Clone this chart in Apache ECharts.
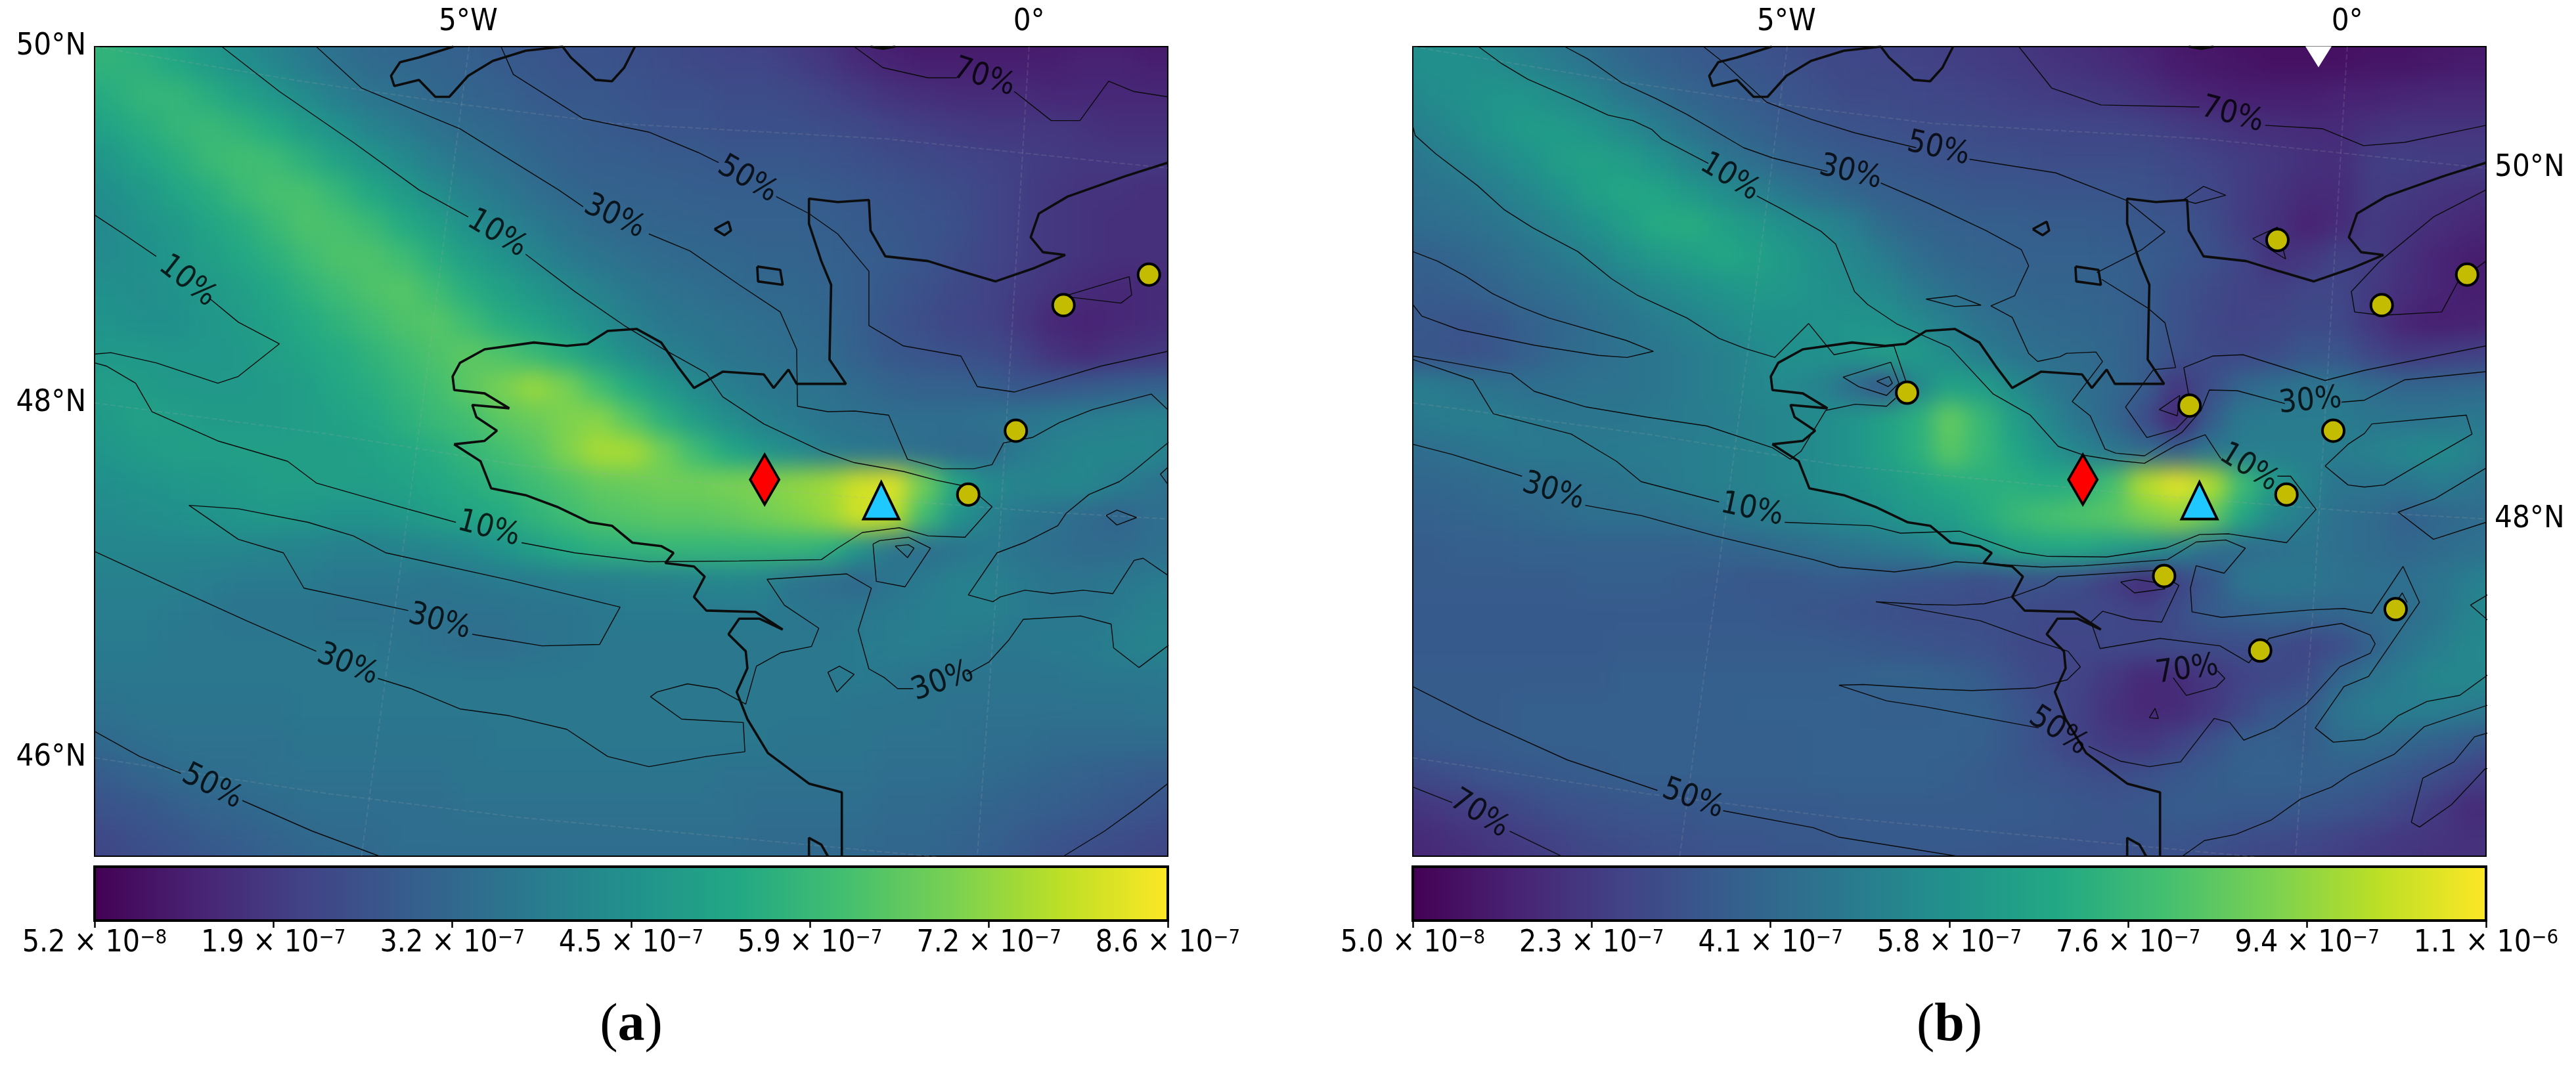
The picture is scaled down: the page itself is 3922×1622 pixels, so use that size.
<!DOCTYPE html>
<html>
<head>
<meta charset="utf-8">
<script src="https://cdn.jsdelivr.net/npm/echarts@6/dist/echarts.min.js"></script>
<style>
html, body { margin: 0; padding: 0; background: #fff; }
body { width: 3922px; height: 1622px; position: relative; overflow: hidden; }
.wrap { position: absolute; overflow: hidden; }
.heat { position: absolute; filter: blur(17px); }
#overlay { position: absolute; left: 0; top: 0; width: 3922px; height: 1622px; }
</style>
</head>
<body>
<div class="wrap" id="wrapA"><div class="heat" id="heatA"></div></div>
<div class="wrap" id="wrapB"><div class="heat" id="heatB"></div></div>
<div id="overlay"></div>
<script>
// all fields in units of 1e-8, rows north to south, one extra row/col round the map
var fieldA = [
[59,57,54,50,46,43,40,37,34,32,31,30,29,27,26,25,25,24,23,22,21,20,18,16,13,11,10,10,10,10,11,11,11,10,10],
[57,57,56,53,49,45,42,38,35,33,32,31,30,28,27,26,26,25,24,23,22,22,20,18,15,13,12,12,12,12,12,13,13,12,12],
[53,55,58,58,55,51,47,43,39,36,34,32,31,30,28,27,27,26,25,25,24,24,23,21,19,17,16,15,15,15,14,14,14,14,14],
[48,52,55,58,59,57,54,49,45,41,38,35,33,32,30,29,28,27,26,26,25,25,25,24,23,21,20,19,18,18,18,17,16,16,16],
[45,48,52,55,59,61,60,56,51,47,43,39,36,34,32,30,29,29,28,28,27,27,27,26,25,24,23,22,21,20,19,18,18,18,18],
[43,45,48,52,55,59,62,62,58,53,49,44,40,37,34,32,31,30,30,29,29,29,29,28,27,26,25,24,22,20,18,17,17,16,16],
[42,43,46,48,52,55,59,63,62,59,54,50,45,41,38,35,33,32,31,31,30,30,30,29,28,27,26,25,22,20,18,17,16,16,16],
[44,43,45,47,50,53,56,60,63,63,60,55,50,46,42,38,36,34,33,32,32,31,31,30,29,28,26,24,22,20,18,17,16,16,16],
[45,45,44,46,48,50,53,57,60,63,64,60,55,51,47,43,40,37,35,34,33,32,32,31,29,27,25,23,21,19,17,15,14,15,15],
[46,46,45,45,47,49,51,54,57,60,63,64,60,55,52,48,44,40,37,36,35,34,33,32,29,26,24,22,21,18,14,13,14,15,16],
[47,48,48,47,47,48,50,52,54,57,60,63,65,63,59,55,49,44,40,38,36,35,34,33,30,27,26,25,24,21,17,15,17,18,19],
[48,50,49,48,48,48,49,50,53,55,58,61,65,69,73,69,61,54,48,43,39,37,36,35,33,31,30,30,29,27,27,28,29,30,30],
[47,49,51,50,49,49,49,50,51,53,56,59,61,65,67,70,71,64,56,49,44,40,38,36,35,34,34,34,35,36,38,39,40,41,40],
[46,47,49,50,50,50,50,50,50,51,53,55,58,61,64,70,75,75,68,60,53,47,43,39,37,36,34,33,33,38,40,42,42,42,38],
[44,45,46,47,48,49,50,50,50,50,51,53,55,57,60,63,66,67,68,68,69,70,72,74,80,82,68,52,43,41,42,42,39,36,33],
[43,43,44,45,46,47,48,47,46,46,48,50,52,54,57,60,63,64,65,65,66,68,70,73,80,78,60,46,40,37,35,33,31,34,34],
[42,42,42,42,42,42,41,41,40,40,41,42,43,46,50,54,56,57,58,58,58,58,58,56,46,36,34,36,38,36,34,33,33,34,35],
[40,40,40,40,39,38,38,38,37,37,37,36,37,38,38,39,39,40,40,41,42,41,36,34,32,36,38,40,40,38,36,36,37,38,39],
[39,39,39,38,37,36,36,36,35,35,35,35,35,35,36,36,37,38,38,38,38,38,37,36,37,38,39,40,40,38,37,37,38,40,40],
[38,38,38,37,37,37,37,37,37,37,36,35,34,34,35,36,37,37,37,37,37,37,37,37,38,39,39,38,37,37,38,38,40,41,41],
[37,37,37,37,37,37,37,37,37,37,37,37,37,37,37,37,37,37,37,37,37,37,37,37,38,37,36,36,36,36,36,37,37,37,38],
[35,35,36,36,36,36,36,37,37,37,37,37,37,37,37,37,37,37,37,37,37,37,37,37,36,36,36,35,35,35,35,35,35,36,36],
[31,33,34,35,35,35,35,36,36,36,36,36,36,37,37,37,37,37,37,37,37,37,36,36,36,35,35,35,34,34,33,33,33,33,33],
[27,29,31,33,34,34,35,35,35,35,35,35,36,36,36,36,36,36,36,36,35,35,35,35,35,34,34,34,33,32,31,30,29,28,28],
[24,26,27,29,31,32,33,34,34,34,34,34,35,35,35,35,35,35,35,35,35,34,34,34,34,33,33,32,31,30,29,28,27,26,25],
[21,23,25,26,28,29,31,32,33,33,34,34,34,34,34,34,34,34,34,34,34,33,33,33,33,32,32,31,30,28,26,25,24,23,22],
[20,22,23,25,26,28,29,31,32,32,33,33,33,33,33,33,33,33,33,33,33,33,32,32,32,31,31,30,28,26,24,23,22,21,20]
];
var fieldB = [
[58,58,56,53,49,46,42,39,36,34,33,31,30,28,27,26,25,24,23,22,20,18,16,14,12,11,10,10,10,10,10,10,11,12,12],
[56,58,58,56,53,49,45,41,38,36,34,33,31,29,28,27,26,25,24,23,21,20,18,16,13,12,11,10,10,10,11,11,12,13,13],
[53,56,58,60,60,56,52,47,43,39,37,35,33,31,29,29,28,27,26,25,24,23,22,20,17,15,14,14,14,15,15,16,17,17,17],
[48,52,56,60,63,63,60,55,50,45,41,38,35,34,32,31,30,30,29,28,28,27,27,26,24,22,20,19,18,18,20,21,21,21,21],
[45,48,51,55,59,64,66,64,59,53,47,43,39,37,35,34,33,32,31,31,30,30,30,30,28,26,24,22,20,19,24,25,24,24,24],
[43,45,47,50,54,59,65,68,67,62,57,52,47,43,40,37,36,35,34,34,33,33,33,32,30,28,24,21,18,18,24,23,21,20,19],
[42,43,44,46,49,53,58,64,70,71,66,62,58,54,50,42,39,38,37,37,36,36,35,34,33,30,24,20,15,18,23,21,19,17,15],
[38,38,40,42,45,48,52,57,62,65,68,66,62,58,54,49,43,40,39,38,38,38,37,36,34,31,27,20,22,26,24,20,16,14,13],
[37,36,37,39,42,44,47,50,54,57,60,62,61,59,56,54,48,44,41,40,39,39,38,36,32,29,26,25,27,27,23,19,16,14,14],
[36,34,33,34,38,40,43,46,49,52,55,58,58,59,60,59,55,50,45,42,41,40,39,36,32,28,26,27,29,28,22,16,14,15,16],
[34,33,32,33,37,41,43,45,47,49,51,54,58,58,60,64,62,56,50,46,43,42,40,36,31,29,28,30,34,33,27,23,24,25,26],
[50,50,47,45,44,44,45,45,47,49,51,54,55,52,42,33,54,66,64,56,48,44,41,36,22,30,40,44,46,46,42,40,40,41,42],
[46,49,50,50,48,47,47,47,48,49,50,52,54,56,60,66,72,86,76,64,54,46,40,30,16,36,48,49,49,49,47,46,46,48,46],
[42,43,45,47,48,48,48,49,49,50,51,52,54,56,60,66,72,84,76,68,60,53,47,42,38,47,50,50,50,50,51,54,56,53,46],
[40,40,41,42,43,44,45,46,48,50,51,52,54,56,59,62,66,70,72,72,70,72,80,100,108,100,78,62,52,46,46,46,49,47,42],
[38,38,39,40,41,42,44,44,44,45,47,49,51,53,55,58,62,64,70,76,80,82,84,90,94,86,68,54,49,44,42,38,40,42,43],
[36,36,37,37,38,38,38,38,38,38,39,40,42,44,46,48,50,56,60,66,68,68,64,60,52,44,42,44,46,44,42,40,42,44,46],
[36,36,36,36,36,36,37,37,37,36,35,34,34,35,35,34,33,32,30,32,32,30,24,18,26,34,46,48,47,45,44,44,46,50,54],
[35,35,35,35,35,35,35,35,35,35,35,35,34,33,32,31,30,30,30,30,28,28,28,26,30,36,38,40,40,40,42,42,46,52,56],
[35,35,35,35,35,35,35,36,36,36,36,36,36,36,35,34,33,32,31,29,27,27,28,28,29,29,30,30,27,30,38,46,50,54,56],
[36,36,36,36,36,36,36,37,37,37,37,37,37,37,38,39,39,38,36,31,28,26,22,17,18,22,26,28,30,40,46,50,54,54,54],
[36,36,36,36,37,37,37,37,37,37,37,38,38,38,38,37,37,38,38,34,30,25,20,17,18,22,28,34,36,46,50,50,50,48,46],
[33,35,36,36,37,37,37,37,37,37,37,37,37,38,38,38,38,38,37,34,30,26,23,22,26,32,37,38,36,42,42,40,38,35,32],
[27,29,31,33,34,35,36,37,37,37,37,37,37,38,38,38,38,37,36,34,33,31,30,31,34,36,38,38,38,37,36,33,30,26,22],
[20,22,24,26,29,31,32,33,34,34,35,35,35,35,36,36,36,36,36,36,35,34,33,34,36,36,35,35,34,33,31,27,23,18,19],
[17,18,20,22,24,26,29,30,31,32,33,33,34,34,35,35,35,35,35,34,34,33,33,33,33,32,30,29,28,26,24,22,21,20,20],
[15,16,18,20,22,24,26,28,29,30,31,31,32,32,33,33,33,33,32,32,31,31,30,30,30,28,27,26,25,23,22,21,20,20,20]
];

var viridis = ['#440154','#482475','#414487','#355f8d','#2a788e','#21918c','#22a884','#44bf70','#7ad151','#bddf26','#fde725'];

// colour bar ticks
var ticksA = [5.2,18.6,32,45.4,58.8,72.2,85.6];
var tickTextA = [['5.2','−8'],['1.9','−7'],['3.2','−7'],['4.5','−7'],['5.9','−7'],['7.2','−7'],['8.6','−7']];
var ticksB = [5,22.8,40.6,58.4,76.2,94,111.8];
var tickTextB = [['5.0','−8'],['2.3','−7'],['4.1','−7'],['5.8','−7'],['7.6','−7'],['9.4','−7'],['1.1','−6']];

var lonTicks = [570,1253];
var lonText = ['5°W','0°'];
var latTicksA = [69,594,1117];
var latTextA = ['50°N','48°N','46°N'];
var latTicksB = [248,765];
var latTextB = ['50°N','48°N'];

var graticule = [
[[115,69],[367,120],[555,153],[746,182],[1080,205],[1422,248]],
[[115,594],[400,640],[634,686],[1001,729],[1274,755],[1422,765]],
[[115,1117],[400,1170],[634,1205],[1140,1263]],
[[571,69],[514,600],[440,1262]],
[[1253,69],[1214,852],[1190,1262]]
];

var coast = [
[[552,69],[510,85],[487,92],[476,112],[480,127],[510,118],[530,143],[547,143],[570,112],[600,90],[640,75],[685,69],[695,85],[725,118],[745,120],[760,100],[773,69]],
[[1060,69],[1075,72],[1090,69]],
[[1422,240],[1370,260],[1300,290],[1265,315],[1255,350],[1270,372],[1297,376],[1260,395],[1212,415],[1170,400],[1130,385],[1078,378],[1060,340],[1058,295],[1020,298],[985,293],[985,330],[1000,385],[1012,420],[1010,530],[1030,566],[970,566],[960,545],[942,572],[930,552],[880,548],[845,572],[825,540],[805,505],[775,485],[740,488],[715,507],[690,510],[650,505],[590,515],[560,535],[551,555],[553,575],[590,580],[620,602],[575,597],[580,615],[605,635],[590,650],[553,655],[585,680],[598,720],[640,730],[680,748],[718,770],[745,775],[770,800],[805,805],[820,815],[810,830],[845,835],[858,850],[845,880],[860,900],[920,902],[953,928],[925,912],[900,912],[887,935],[908,960],[910,985],[897,1020],[910,1060],[935,1110],[985,1155],[1025,1168],[1025,1262]],
[[985,1262],[985,1235],[1000,1245],[1008,1262]],
[[870,338],[887,327],[890,340],[882,347],[870,338]],
[[922,393],[950,398],[953,420],[923,415],[922,393]]
];

var contoursA = [
[[270,69],[340,135],[430,210],[510,280],[570,320]],
[[640,375],[700,430],[760,480],[808,515],[860,550],[880,585],[930,625],[1000,665],[1040,682],[1100,695],[1140,708],[1180,718],[1208,747],[1175,792],[1130,790],[1095,778],[1050,785],[1020,808],[1000,825],[900,827],[790,828],[700,815],[635,800]],
[[555,770],[480,745],[385,712],[350,680],[265,650],[185,607],[165,565],[130,540],[115,535]],
[[115,522],[135,520],[190,535],[265,565],[290,555],[340,507],[290,475],[255,440]],
[[190,378],[150,345],[115,317]],
[[385,69],[440,130],[500,160],[560,190],[620,235],[680,280],[710,305]],
[[790,345],[840,370],[900,420],[950,460],[970,515],[971,599],[1008,607],[1041,606],[1082,612],[1105,677],[1147,691],[1186,691],[1208,685],[1222,653],[1257,645],[1290,623],[1330,604],[1402,581],[1422,604]],
[[1423,652],[1400,675],[1379,696],[1363,710],[1326,729],[1298,757],[1288,775],[1249,799],[1214,815],[1179,877],[1209,887],[1218,880],[1248,870],[1281,875],[1319,870],[1355,875],[1381,826],[1392,823],[1422,848]],
[[1347,760],[1360,752],[1384,763],[1360,774],[1347,760]],
[[1422,689],[1413,699],[1422,714]],
[[1063,802],[1071,797],[1106,792],[1133,808],[1102,865],[1067,857],[1063,802]],
[[1090,805],[1106,803],[1113,808],[1105,822],[1090,805]],
[[1112,1015],[1093,1015],[1077,999],[1058,986],[1045,929],[1061,867],[1031,846],[934,854],[955,892],[997,926],[988,953],[951,962],[921,982],[908,1038],[873,1015],[837,1008],[800,1020],[792,1027],[830,1060],[905,1065],[907,1108],[860,1115],[790,1130],[740,1115],[690,1075],[620,1055],[560,1045],[500,1015],[460,1000]],
[[385,960],[300,915],[200,860],[115,813]],
[[1177,994],[1204,976],[1228,944],[1246,913],[1316,908],[1353,920],[1356,955],[1387,984],[1423,951]],
[[1008,991],[1022,982],[1040,994],[1019,1020],[1008,991]],
[[230,745],[290,750],[375,770],[430,790],[470,815],[620,855],[755,895],[730,950],[660,952],[600,940],[575,935]],
[[497,900],[440,885],[370,867],[345,815],[290,795],[230,745]],
[[115,1078],[170,1115],[220,1140]],
[[295,1180],[380,1225],[462,1262]],
[[1295,1262],[1345,1225],[1385,1190],[1422,1155]],
[[610,69],[625,110],[710,175],[790,195],[850,225],[875,240]],
[[945,290],[985,315],[1020,345],[1058,400],[1058,480],[1100,510],[1170,525],[1190,570],[1235,578],[1340,540],[1422,518]],
[[1040,69],[1075,100],[1130,115],[1165,115]],
[[1235,135],[1280,178],[1315,178],[1350,120],[1380,135],[1422,143]],
[[1295,437],[1375,408],[1378,435],[1365,447],[1295,437]]
];

var contoursB = [
[[195,69],[222,93],[255,117],[310,146],[353,170],[383,178],[406,191],[418,205],[475,241]],
[[534,289],[567,310],[612,341],[630,360],[653,430],[669,449],[705,478],[769,512],[822,581],[867,612],[901,658],[932,671],[973,679],[1006,683],[1044,657],[1080,641],[1099,676]],
[[1168,702],[1184,702],[1215,751],[1179,800],[1109,787],[1073,788],[1032,808],[960,821],[887,820],[854,814],[781,783],[709,786],[673,775],[634,773],[568,770]],
[[488,740],[393,710],[363,680],[308,640],[213,610],[188,560],[115,530]],
[[300,69],[328,87],[369,122],[412,146],[449,169],[518,218],[553,233],[620,253]],
[[685,270],[743,300],[813,340],[856,368],[865,392],[848,436],[819,451],[845,468],[865,521],[876,533],[903,526],[911,521],[947,519],[955,533],[918,592],[940,613],[958,662],[971,668],[1006,672],[1052,637],[1075,605],[1085,575],[1119,576],[1177,595]],
[[1246,593],[1274,590],[1323,560],[1422,548]],
[[115,186],[118,200],[143,227],[194,274],[226,309],[261,336],[316,371],[357,411],[388,435],[449,469],[488,499],[520,514],[556,527],[597,477],[628,523],[665,514],[701,510],[716,564]],
[[703,587],[692,599],[654,596],[618,605],[588,665],[575,677],[553,660],[473,628],[400,615],[326,600],[263,577],[235,551],[159,534],[115,525]],
[[115,371],[145,385],[179,407],[212,433],[245,452],[281,469],[375,502],[408,518],[376,527],[341,524],[263,509],[171,486],[126,466],[115,449]],
[[115,655],[163,670],[248,702]],
[[325,745],[393,760],[483,790],[603,825],[634,836],[702,843],[745,836],[776,828],[882,836],[932,834],[1034,825],[1069,799],[1105,796],[1129,808],[1103,845],[1069,834],[1062,867],[1064,902],[1100,910],[1208,899],[1249,897],[1283,904],[1321,835],[1341,888],[1279,997],[1249,1012],[1214,1073],[1236,1094],[1274,1090],[1292,1080],[1315,1055],[1350,1034],[1390,1025],[1425,994]],
[[679,887],[735,891],[776,892],[811,890],[847,879],[884,863],[901,850],[1019,841],[1048,863],[1027,917],[991,913],[955,901],[941,917],[952,956],[1025,941],[1098,952],[1133,977],[1158,941],[1208,926],[1246,919],[1281,936],[1287,949],[1281,963],[1244,983],[1203,1038],[1164,1073],[1127,1091],[1110,1065],[1091,1059],[1050,1123],[1012,1130],[977,1122],[938,1100]],
[[877,1073],[740,1042],[692,1033],[634,1010],[664,1009],[755,1016],[796,1018],[874,1014],[912,1002],[928,983],[913,960],[879,947],[806,915],[679,887]],
[[1041,999],[1057,1025],[1093,1013],[1104,1000],[1095,989]],
[[1012,1058],[1019,1044],[1023,1059],[1012,1058]],
[[977,858],[995,854],[1021,859],[1031,868],[994,874],[977,858]],
[[1315,883],[1320,874],[1326,888]],
[[1425,876],[1403,892],[1425,915]],
[[1425,1039],[1347,1071],[1310,1112],[1256,1142],[1234,1160],[1196,1178],[1160,1209],[1117,1230],[1079,1239],[1051,1263]],
[[115,1012],[193,1060],[303,1120],[413,1165]],
[[493,1195],[603,1220],[634,1234],[783,1263]],
[[115,1160],[163,1183]],
[[233,1225],[298,1263]],
[[1425,1080],[1408,1086],[1383,1123],[1345,1147],[1331,1212],[1341,1219],[1380,1186],[1408,1150],[1421,1133],[1425,1133]],
[[469,69],[494,93],[546,151],[600,176],[653,196],[728,218]],
[[793,235],[898,255],[983,295],[1031,342],[1003,368],[948,402]],
[[954,412],[1011,455],[1031,476],[1044,542],[1017,545],[983,600],[1009,645],[1044,633],[1060,613]],
[[1060,583],[1054,542],[1089,525],[1126,523],[1226,561],[1274,546],[1422,510]],
[[1024,604],[1049,583],[1046,613],[1024,604]],
[[740,441],[777,436],[807,450],[775,452],[740,441]],
[[639,556],[697,534],[707,565],[692,583],[658,570],[639,556]],
[[680,562],[695,555],[699,565],[694,570],[680,562]],
[[1138,352],[1168,335],[1178,382],[1138,352]],
[[853,69],[893,130],[953,155],[1073,158]],
[[1153,185],[1223,190],[1273,215],[1323,210],[1422,185]],
[[1422,280],[1358,320],[1293,385],[1258,430],[1262,460],[1295,465],[1368,460],[1388,415],[1422,385]],
[[1053,295],[1078,275],[1105,288],[1068,300],[1053,295]],
[[1226,687],[1254,655],[1274,639],[1283,625],[1398,612],[1405,640],[1333,690],[1298,715],[1274,718],[1254,715],[1226,687]],
[[1422,690],[1360,735],[1315,755],[1358,795],[1422,770]]
];

var levelLabelsA = [
['10%',605,345,-31],['30%',748,320,-25],['50%',910,265,-30],['70%',1198,115,-18],
['10%',228,415,-38],['10%',595,780,-15],['30%',535,917,-15],['30%',423,980,-22],
['50%',258,1160,-27],['30%',1148,1005,20]
];
var levelLabelsB = [
['10%',501,262,-31],['30%',648,255,-13],['50%',755,220,-13],['70%',1113,170,-15],
['30%',1208,592,5],['10%',1133,690,-32],['10%',528,752,-12],['30%',286,725,-17],
['50%',901,1078,-33],['50%',456,1178,-20],['70%',196,1200,-32],['70%',1058,988,8]
];

var sourceSite = [[931,707]];
var peakSite = [[1073,738]];
var stationsA = [[1295,450],[1399,405],[1237,635],[1179,729]];
var stationsB = [[1168,354],[1399,405],[1295,450],[717,579],[1061,598],[1236,635],[1179,729],[1030,849],[1312,898],[1147,959]];
var whiteMark = [[1218,84]];

var panelW = 1634, panelH = 1233, panelTop = 71, leftA = 144, leftB = 2151;
var barTop = 1320, barH = 82;
var fontName = '"DejaVu Sans Condensed", "DejaVu Sans", sans-serif';

function drawHeat(wrapId, heatId, left, field, vmin, vmax) {
    var cols = field[0].length, rows = field.length;
    var cw = panelW / (cols - 2), ch = panelH / (rows - 2);
    var wrap = document.getElementById(wrapId);
    wrap.style.left = left + 'px'; wrap.style.top = panelTop + 'px';
    wrap.style.width = panelW + 'px'; wrap.style.height = panelH + 'px';
    var el = document.getElementById(heatId);
    el.style.left = -cw + 'px'; el.style.top = -ch + 'px';
    el.style.width = (panelW + 2 * cw) + 'px'; el.style.height = (panelH + 2 * ch) + 'px';
    var cells = [];
    field.forEach(function (row, j) {
        if (row.length !== cols) throw new Error(heatId + ' row ' + j + ' has ' + row.length);
        row.forEach(function (v, i) { cells.push([i, j, v]); });
    });
    var xs = field[0].map(function (d, i) { return i; });
    var ys = field.map(function (d, j) { return j; });
    echarts.init(el).setOption({
        animation: false,
        grid: { left: 0, right: 0, top: 0, bottom: 0 },
        xAxis: { type: 'category', data: xs, show: false },
        yAxis: { type: 'category', data: ys, show: false, inverse: true },
        visualMap: { show: false, min: vmin, max: vmax, inRange: { color: viridis }, seriesIndex: 0 },
        series: [{ type: 'heatmap', data: cells, progressive: 0 }]
    });
}
drawHeat('wrapA', 'heatA', leftA, fieldA, ticksA[0], ticksA[6]);
drawHeat('wrapB', 'heatB', leftB, fieldB, ticksB[0], ticksB[6]);

var grids = [], xAxes = [], yAxes = [], series = [];

function addPanel(left, latTicks, latText, latSide, contours, labels, stations, extra) {
    var idx = grids.length;
    grids.push({ show: true, left: left, top: panelTop, width: panelW, height: panelH, backgroundColor: 'transparent', borderColor: '#000', borderWidth: 2 });
    xAxes.push({
        gridIndex: idx, type: 'value', min: 115, max: 1422, position: 'top',
        axisLine: { show: false }, axisTick: { show: false }, splitLine: { show: false },
        axisLabel: {
            customValues: lonTicks, margin: 14, fontFamily: fontName, fontSize: 47, color: '#000',
            formatter: function (v) { return lonText[lonTicks.indexOf(v)]; }
        }
    });
    yAxes.push({
        gridIndex: idx, type: 'value', min: 69, max: 1262, inverse: true, position: latSide,
        axisLine: { show: false }, axisTick: { show: false }, splitLine: { show: false },
        axisLabel: {
            customValues: latTicks, margin: 13, fontFamily: fontName, fontSize: 47, color: '#000',
            formatter: function (v) { return latText[latTicks.indexOf(v)]; }
        }
    });
    function polyline(pts, width, color, dashed) {
        series.push({
            type: 'line', xAxisIndex: idx, yAxisIndex: idx, data: pts, showSymbol: false, silent: true,
            lineStyle: { width: width, color: color, type: dashed ? 'dashed' : 'solid' }
        });
    }
    graticule.forEach(function (p) { polyline(p, 2, 'rgba(170,170,170,0.18)', true); });
    contours.forEach(function (p) { polyline(p, 1.4, '#0a0a0a'); });
    coast.forEach(function (p) { polyline(p, 3.6, '#0c0c0c'); });
    series.push({
        type: 'scatter', xAxisIndex: idx, yAxisIndex: idx, symbolSize: 1, z: 5, silent: true,
        itemStyle: { color: 'transparent' },
        data: labels.map(function (d) {
            return { name: d[0], value: [d[1], d[2]], label: { rotate: d[3] } };
        }),
        label: { show: true, position: 'inside', formatter: '{b}', fontFamily: fontName, fontSize: 48, color: '#000' }
    });
    function marks(data, symbol, size, fill, rotate, border) {
        series.push({
            type: 'scatter', xAxisIndex: idx, yAxisIndex: idx, data: data, symbol: symbol, symbolSize: size,
            symbolRotate: rotate || 0, z: 6, silent: true,
            itemStyle: { color: fill, borderColor: '#000', borderWidth: border === undefined ? 4 : border, opacity: 1 }
        });
    }
    marks(stations, 'circle', 33, '#c4bc00');
    marks(sourceSite, 'diamond', [44, 76], '#ff0000');
    marks(peakSite, 'triangle', [54, 56], '#1fc8ff');
    if (extra) marks(extra, 'triangle', [40, 32], '#ffffff', 180, 0);
}

function addBar(left, ticks, tickText, tag) {
    var idx = grids.length;
    grids.push({
        show: true, left: left, top: barTop, width: panelW, height: barH, borderColor: '#000', borderWidth: 4,
        backgroundColor: {
            type: 'linear', x: 0, y: 0, x2: 1, y2: 0,
            colorStops: viridis.map(function (c, i) { return { offset: i / (viridis.length - 1), color: c }; })
        }
    });
    xAxes.push({
        gridIndex: idx, type: 'value', min: ticks[0], max: ticks[ticks.length - 1], position: 'bottom',
        axisLine: { show: false }, splitLine: { show: false },
        axisTick: { show: true, customValues: ticks, length: 11, lineStyle: { color: '#000', width: 2.5 } },
        axisLabel: {
            customValues: ticks, margin: 11, color: '#000', fontFamily: fontName, fontSize: 46,
            formatter: function (v) {
                var t = tickText[ticks.indexOf(v)];
                return '{m|' + t[0] + ' × 10}{e|' + t[1] + '}';
            },
            rich: {
                m: { fontFamily: fontName, fontSize: 46, color: '#000' },
                e: { fontFamily: fontName, fontSize: 31, color: '#000', padding: [0, 0, 18, 0] }
            }
        },
        name: '{p|(}{t|' + tag + '}{p|)}', nameLocation: 'middle', nameGap: 120,
        nameTextStyle: {
            rich: {
                p: { fontFamily: 'Liberation Serif', fontSize: 82, color: '#000' },
                t: { fontFamily: 'Liberation Serif', fontWeight: 'bold', fontSize: 82, color: '#000' }
            }
        }
    });
    yAxes.push({ gridIndex: idx, type: 'value', show: false, min: 0, max: 1 });
}

addPanel(leftA, latTicksA, latTextA, 'left', contoursA, levelLabelsA, stationsA);
addPanel(leftB, latTicksB, latTextB, 'right', contoursB, levelLabelsB, stationsB, whiteMark);
addBar(leftA, ticksA, tickTextA, 'a');
addBar(leftB, ticksB, tickTextB, 'b');

echarts.init(document.getElementById('overlay')).setOption({
    animation: false,
    grid: grids,
    xAxis: xAxes,
    yAxis: yAxes,
    series: series
});
</script>
</body>
</html>
